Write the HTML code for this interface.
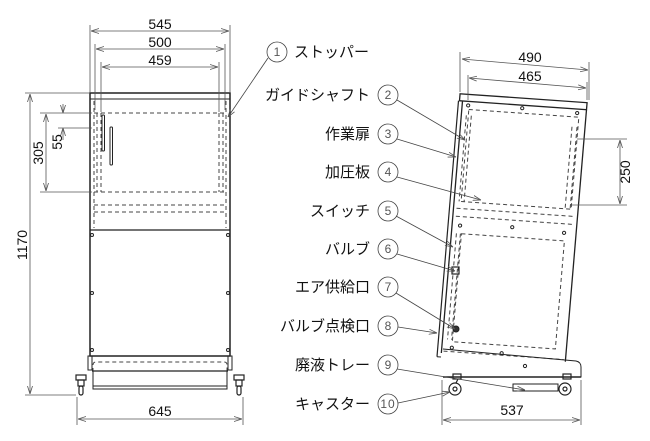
<!DOCTYPE html>
<html><head><meta charset="utf-8"><style>
html,body{margin:0;padding:0;background:#fff;}
svg{display:block;}
text{font-family:"Liberation Sans","Noto Sans CJK JP",sans-serif;fill:#111;}
.j{font-size:15px;}
.n{font-size:14px;}
.c{font-size:12px;fill:#555;}
</style></head><body>
<svg width="650" height="441" viewBox="0 0 650 441" xmlns="http://www.w3.org/2000/svg">
<defs>
<marker id="a" markerWidth="8" markerHeight="6" refX="8" refY="3" orient="auto-start-reverse" markerUnits="userSpaceOnUse"><path d="M0,0.5 L8,3 L0,5.5" fill="none" stroke="#555" stroke-width="0.8"/></marker>
</defs>
<!-- FRONT VIEW -->
<g fill="none" stroke="#222" stroke-width="1">
<rect x="90" y="93" width="140" height="263" stroke-width="1.5"/>
<line x1="90" y1="99" x2="230" y2="99"/>
<line x1="90" y1="230" x2="230" y2="230" stroke-width="1.3"/>
<g stroke-dasharray="4,3" stroke="#444">
<line x1="94" y1="113" x2="226" y2="113"/>
<line x1="94" y1="192" x2="226" y2="192"/>
<line x1="94" y1="205" x2="226" y2="205"/>
<line x1="94" y1="212" x2="226" y2="212"/>
<line x1="94" y1="101" x2="94" y2="228"/>
<line x1="226" y1="101" x2="226" y2="228"/>
<line x1="97" y1="113" x2="97" y2="192"/>
<line x1="101" y1="113" x2="101" y2="192"/>
<line x1="219" y1="113" x2="219" y2="192"/>
<line x1="223" y1="113" x2="223" y2="192"/>
<path d="M93,372 L93,365 Q93,362 96,362 L224,362 Q227,362 227,365 L227,372"/>
</g>
<rect x="102" y="115" width="2.5" height="36" rx="1"/>
<rect x="110" y="127" width="2.5" height="38" rx="1"/>
<circle cx="92" cy="235" r="1.5"/><circle cx="228" cy="235" r="1.5"/>
<circle cx="92" cy="293" r="1.5"/><circle cx="228" cy="293" r="1.5"/>
<circle cx="92" cy="350" r="1.5"/><circle cx="228" cy="350" r="1.5"/>
<path d="M90,356 L88,356 L88,370 L92,370 L92,356" />
<path d="M230,356 L232,356 L232,370 L228,370 L228,356" />
<line x1="92" y1="371" x2="228" y2="371" stroke-width="1.3"/>
<rect x="93" y="371" width="134" height="18"/>
<line x1="93" y1="386" x2="227" y2="386"/>
<g stroke-width="1.2">
<rect x="76" y="375" width="10" height="5"/><rect x="78" y="380" width="6" height="6"/><rect x="79" y="386" width="4" height="9" rx="2"/>
<rect x="234" y="375" width="10" height="5"/><rect x="236" y="380" width="6" height="6"/><rect x="237" y="386" width="4" height="9" rx="2"/>
</g>
</g>
<!-- front dims -->
<g stroke="#555" stroke-width="0.8" fill="none">
<line x1="90" y1="25" x2="90" y2="93"/><line x1="230" y1="25" x2="230" y2="93"/>
<line x1="91" y1="31" x2="229" y2="31" marker-start="url(#a)" marker-end="url(#a)"/>
<line x1="95" y1="44" x2="95" y2="110"/><line x1="225" y1="44" x2="225" y2="110"/>
<line x1="96" y1="49" x2="224" y2="49" marker-start="url(#a)" marker-end="url(#a)"/>
<line x1="101" y1="62" x2="101" y2="112"/><line x1="219" y1="62" x2="219" y2="112"/>
<line x1="102" y1="67" x2="218" y2="67" marker-start="url(#a)" marker-end="url(#a)"/>
<line x1="25" y1="93" x2="90" y2="93"/><line x1="25" y1="395" x2="76" y2="395"/>
<line x1="30" y1="94" x2="30" y2="394" marker-start="url(#a)" marker-end="url(#a)"/>
<line x1="40" y1="113" x2="92" y2="113"/><line x1="40" y1="192" x2="92" y2="192"/>
<line x1="46" y1="114" x2="46" y2="191" marker-start="url(#a)" marker-end="url(#a)"/>
<line x1="58" y1="128" x2="92" y2="128"/>
<line x1="63" y1="104" x2="63" y2="113" marker-end="url(#a)"/>
<line x1="63" y1="140" x2="63" y2="128" marker-end="url(#a)"/>
<line x1="77" y1="397" x2="77" y2="425"/><line x1="243" y1="397" x2="243" y2="425"/>
<line x1="78" y1="419" x2="242" y2="419" marker-start="url(#a)" marker-end="url(#a)"/>
</g>
<text class="n" x="160" y="29" text-anchor="middle">545</text>
<text class="n" x="160" y="47" text-anchor="middle">500</text>
<text class="n" x="160" y="65" text-anchor="middle">459</text>
<text class="n" x="160" y="416" text-anchor="middle">645</text>
<text class="n" transform="translate(27,245) rotate(-90)" text-anchor="middle">1170</text>
<text class="n" transform="translate(43,153) rotate(-90)" text-anchor="middle">305</text>
<text class="n" transform="translate(62,142) rotate(-90)" text-anchor="middle">55</text>

<!-- SIDE VIEW -->
<g transform="matrix(1,0.07,-0.084,1,463,95)" fill="none" stroke="#222" stroke-width="1">
<rect x="-3" y="-1" width="127" height="7" stroke-width="1.3"/>
<line x1="0" y1="6" x2="0" y2="258" stroke-width="1.3"/>
<line x1="124" y1="6" x2="124" y2="258" stroke-width="1.3"/>
<line x1="-4" y1="6" x2="-4" y2="262" stroke-width="1.2"/>
<line x1="-4" y1="262" x2="0" y2="262"/>
<g stroke-dasharray="4,3" stroke="#444">
<rect x="7" y="14" width="110" height="92"/>
<line x1="3" y1="113" x2="122" y2="113"/>
<line x1="3" y1="121" x2="122" y2="121"/>
<rect x="10" y="138" width="103" height="108"/>
<line x1="5" y1="20" x2="5" y2="106"/><line x1="10" y1="20" x2="10" y2="106"/>
<line x1="111" y1="24" x2="111" y2="106"/><line x1="116" y1="24" x2="116" y2="106"/>
<line x1="5" y1="138" x2="5" y2="244"/><line x1="9" y1="138" x2="9" y2="244"/>
<line x1="2" y1="256" x2="122" y2="256"/>
</g>
<circle cx="6" cy="10" r="1.6"/><circle cx="60" cy="9" r="1.6"/><circle cx="115" cy="10" r="1.6"/>
<circle cx="8" cy="130" r="1.6"/><circle cx="60" cy="128" r="1.6"/><circle cx="112" cy="130" r="1.6"/>
<circle cx="10" cy="252" r="1.6"/><circle cx="60" cy="254" r="1.6"/>
</g>
<g fill="none" stroke="#222" stroke-width="1">
<path d="M443,349 L576,361 Q581,362 581,367 L581,377 L443,377"/>
<line x1="443" y1="377" x2="581" y2="377" stroke-width="1.5"/>
<circle cx="525" cy="366" r="1.6"/>
<rect x="513" y="384" width="45" height="7"/>
<g stroke-width="1.2">
<rect x="453" y="374" width="8" height="5"/><circle cx="455" cy="389" r="6"/><circle cx="455" cy="389" r="2"/><line x1="458" y1="379" x2="456" y2="383"/>
<rect x="563" y="374" width="8" height="5"/><circle cx="565" cy="389" r="6"/><circle cx="565" cy="389" r="2"/>
</g>
<rect x="452" y="267" width="7" height="7" stroke-width="1.2"/>
<circle cx="456" cy="329" r="3" fill="#333"/>
</g>
<!-- side dims -->
<g stroke="#555" stroke-width="0.8" fill="none">
<line x1="460" y1="52" x2="460" y2="92"/><line x1="589" y1="62" x2="589" y2="100"/>
<line x1="462" y1="59" x2="588" y2="70" marker-start="url(#a)" marker-end="url(#a)"/>
<line x1="468" y1="75" x2="468" y2="100"/><line x1="587" y1="82" x2="587" y2="100"/>
<line x1="469" y1="78" x2="586" y2="88" marker-start="url(#a)" marker-end="url(#a)"/>
<line x1="577" y1="139" x2="627" y2="139"/><line x1="572" y1="205" x2="627" y2="205"/>
<line x1="620" y1="140" x2="620" y2="204" marker-start="url(#a)" marker-end="url(#a)"/>
<line x1="442" y1="380" x2="442" y2="425"/><line x1="581" y1="380" x2="581" y2="425"/>
<line x1="443" y1="420" x2="580" y2="420" marker-start="url(#a)" marker-end="url(#a)"/>
</g>
<text class="n" x="530" y="62" text-anchor="middle">490</text>
<text class="n" x="530" y="81" text-anchor="middle">465</text>
<text class="n" x="512" y="415" text-anchor="middle">537</text>
<text class="n" transform="translate(630,172) rotate(-90)" text-anchor="middle">250</text>

<!-- balloons -->
<g fill="none" stroke="#444" stroke-width="0.8">
<circle cx="277" cy="52" r="10"/>
<circle cx="388" cy="95" r="10"/><circle cx="388" cy="134" r="10"/><circle cx="388" cy="172" r="10"/>
<circle cx="388" cy="211" r="10"/><circle cx="388" cy="249" r="10"/><circle cx="388" cy="287" r="10"/>
<circle cx="388" cy="326" r="10"/><circle cx="388" cy="365" r="10"/><circle cx="388" cy="404" r="10"/>
<line x1="268" y1="58" x2="228" y2="117" marker-end="url(#a)"/>
<line x1="397" y1="100" x2="465" y2="140" marker-end="url(#a)"/>
<line x1="397" y1="139" x2="456" y2="157" marker-end="url(#a)"/>
<line x1="397" y1="177" x2="481" y2="200" marker-end="url(#a)"/>
<line x1="396" y1="216" x2="453" y2="247" marker-end="url(#a)"/>
<line x1="397" y1="254" x2="455" y2="271" marker-end="url(#a)"/>
<line x1="396" y1="293" x2="455" y2="329" marker-end="url(#a)"/>
<line x1="398" y1="327" x2="437" y2="333" marker-end="url(#a)"/>
<line x1="397" y1="369" x2="525" y2="390" marker-end="url(#a)"/>
<line x1="398" y1="403" x2="450" y2="392" marker-end="url(#a)"/>
</g>
<text class="c" x="277" y="56" text-anchor="middle">1</text>
<text class="c" x="388" y="99" text-anchor="middle">2</text>
<text class="c" x="388" y="138" text-anchor="middle">3</text>
<text class="c" x="388" y="176" text-anchor="middle">4</text>
<text class="c" x="388" y="215" text-anchor="middle">5</text>
<text class="c" x="388" y="253" text-anchor="middle">6</text>
<text class="c" x="388" y="291" text-anchor="middle">7</text>
<text class="c" x="388" y="330" text-anchor="middle">8</text>
<text class="c" x="388" y="369" text-anchor="middle">9</text>
<text class="c" x="388" y="408" text-anchor="middle" letter-spacing="1">10</text>
<text class="j" x="294" y="57">ストッパー</text>
<text class="j" x="370" y="100" text-anchor="end">ガイドシャフト</text>
<text class="j" x="370" y="139" text-anchor="end">作業扉</text>
<text class="j" x="370" y="177" text-anchor="end">加圧板</text>
<text class="j" x="370" y="216" text-anchor="end">スイッチ</text>
<text class="j" x="370" y="254" text-anchor="end">バルブ</text>
<text class="j" x="370" y="292" text-anchor="end">エア供給口</text>
<text class="j" x="370" y="331" text-anchor="end">バルブ点検口</text>
<text class="j" x="370" y="370" text-anchor="end">廃液トレー</text>
<text class="j" x="370" y="409" text-anchor="end">キャスター</text>
</svg>
</body></html>
